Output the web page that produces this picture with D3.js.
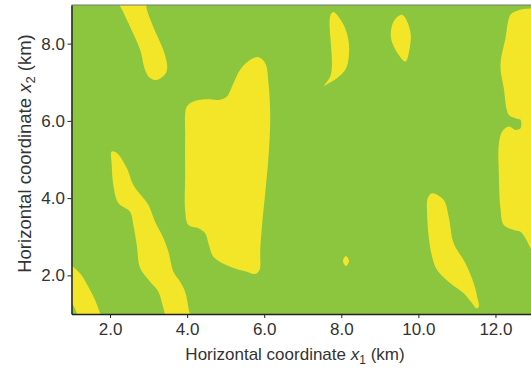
<!DOCTYPE html>
<html>
<head>
<meta charset="utf-8">
<script src="https://cdn.jsdelivr.net/npm/d3@7"></script>
<style>
  html, body { margin: 0; padding: 0; background: #fff; }
  svg { display: block; font-family: "Liberation Sans", Arial, sans-serif; }
</style>
</head>
<body>
<div id="chart"></div>
<script>
// 坐标范围 (km)
const xDomain = [1, 13];
const yDomain = [1, 9];
const xTicks = [2, 4, 6, 8, 10, 12];
const yTicks = [2, 4, 6, 8];

// 黄色区域轮廓 [x1, x2] (km)，超出边界的部分由裁剪去掉
const blobTopLeft = [[2.15,9.3],[2.35,8.8],[2.52,8.44],[2.78,7.84],[2.91,7.32],[3.04,7.11],[3.22,7.06],[3.45,7.24],[3.48,7.45],[3.38,7.84],[3.12,8.44],[2.95,8.9],[2.9,9.3]];
const blobLeftStreak = [[2.044,5.205],[2.044,4.86],[2.086,4.342],[2.216,3.876],[2.519,3.65],[2.605,3.306],[2.694,2.788],[2.779,2.192],[3.039,1.837],[3.255,1.578],[3.384,1.155],[3.514,0.8],[4.078,0.8],[4.034,1.155],[3.948,1.578],[3.818,1.837],[3.644,2.096],[3.514,2.614],[3.384,2.969],[3.169,3.391],[2.995,3.824],[2.605,4.342],[2.434,4.782],[2.174,5.171]];
const blobCenter = [[5.852,7.65],[6.026,7.495],[6.112,6.977],[6.156,6.111],[6.112,5.075],[6.026,4.127],[5.94,3.262],[5.896,2.658],[5.878,2.14],[5.766,2.036],[5.551,2.096],[5.117,2.225],[4.683,2.484],[4.553,2.832],[4.468,3.091],[4.294,3.22],[4.034,3.306],[3.948,3.694],[3.948,4.557],[3.948,5.593],[3.974,6.329],[4.078,6.459],[4.338,6.544],[4.597,6.562],[4.857,6.544],[5.031,6.63],[5.203,6.977],[5.377,7.321],[5.636,7.58]];
const blobCrescent = [[7.8,8.816],[8.06,8.487],[8.19,8.054],[8.19,7.624],[8.104,7.321],[7.888,7.106],[7.67,6.977],[7.558,6.907],[7.714,7.148],[7.758,7.451],[7.732,7.969],[7.696,8.573],[7.732,8.764]];
const blobOval = [[9.577,8.746],[9.792,8.313],[9.774,7.883],[9.662,7.536],[9.488,7.71],[9.291,8.143],[9.358,8.573]];
const blobDot = [[8.122,2.5],[8.2,2.373],[8.122,2.243],[8.044,2.373]];
const blobLowerRight = [[10.356,4.127],[10.657,3.953],[10.787,3.521],[10.917,2.832],[11.221,2.313],[11.436,1.795],[11.525,1.448],[11.566,1.189],[11.506,1.148],[11.395,1.277],[11.177,1.536],[10.831,1.795],[10.486,2.14],[10.356,2.484],[10.268,3.003],[10.226,3.609],[10.242,3.997]];
const blobRightEdge = [[12.564,8.85],[12.39,8.746],[12.26,8.142],[12.13,7.451],[12.216,6.847],[12.345,6.158],[12.519,6.07],[12.649,6.026],[12.649,5.811],[12.519,5.767],[12.345,5.852],[12.174,5.723],[12.086,5.378],[12.086,4.687],[12.13,3.738],[12.216,3.306],[12.475,3.176],[12.649,3.132],[12.779,2.961],[12.909,2.702],[13.04,2.45],[13.5,2.3],[13.5,8.85],[12.8,8.9]];
const blobCorner = [[0.831,2.347],[1.005,2.244],[1.221,2.054],[1.436,1.707],[1.61,1.363],[1.74,1.018],[1.792,0.8],[1.143,0.8],[1.135,1.018],[1.005,1.277],[0.831,1.415]];

const blobs = [blobTopLeft, blobLeftStreak, blobCenter, blobCrescent, blobOval, blobDot, blobLowerRight, blobRightEdge, blobCorner];

const xLabel = ['Horizontal coordinate ', 'x', '1', ' (km)'];
const yLabel = ['Horizontal coordinate ', 'x', '2', ' (km)'];

const width = 531, height = 371;
const margin = { top: 5, right: -3, bottom: 57, left: 71.5 };

const svg = d3.select('#chart').append('svg')
  .attr('width', width)
  .attr('height', height);

const x = d3.scaleLinear().domain(xDomain).range([margin.left, width - margin.right]);
const y = d3.scaleLinear().domain(yDomain).range([height - margin.bottom, margin.top]);

svg.append('clipPath').attr('id', 'plot-clip')
  .append('rect')
  .attr('x', x(xDomain[0])).attr('y', y(yDomain[1]))
  .attr('width', x(xDomain[1]) - x(xDomain[0]))
  .attr('height', y(yDomain[0]) - y(yDomain[1]));

// 绿色背景
svg.append('rect')
  .attr('x', x(xDomain[0])).attr('y', y(yDomain[1]))
  .attr('width', x(xDomain[1]) - x(xDomain[0]))
  .attr('height', y(yDomain[0]) - y(yDomain[1]))
  .attr('fill', '#8cc63f');

const line = d3.line()
  .x(d => x(d[0]))
  .y(d => y(d[1]))
  .curve(d3.curveCatmullRomClosed.alpha(0.5));

svg.append('g')
  .attr('clip-path', 'url(#plot-clip)')
  .selectAll('path')
  .data(blobs)
  .join('path')
  .attr('d', line)
  .attr('fill', '#f3e629');

// 顶部边框
svg.append('line')
  .attr('x1', x(xDomain[0])).attr('x2', width)
  .attr('y1', y(yDomain[1])).attr('y2', y(yDomain[1]))
  .attr('stroke', '#777')
  .attr('stroke-width', 1.2);

// 坐标轴
const xAxis = svg.append('g')
  .attr('transform', `translate(0,${y(yDomain[0])})`)
  .call(d3.axisBottom(x).tickValues(xTicks).tickFormat(d3.format('.1f')).tickSize(4).tickPadding(5).tickSizeOuter(0));

const yAxis = svg.append('g')
  .attr('transform', `translate(${x(xDomain[0])},0)`)
  .call(d3.axisLeft(y).tickValues(yTicks).tickFormat(d3.format('.1f')).tickSize(4).tickPadding(2.5).tickSizeOuter(0));

[xAxis, yAxis].forEach(a => {
  a.select('.domain').attr('stroke', '#222').attr('stroke-width', 1.5);
  a.selectAll('.tick line').attr('stroke', '#222');
  a.selectAll('.tick text')
    .attr('fill', '#333')
    .style('font-size', '17px')
    .style('font-family', '"Liberation Sans", Arial, sans-serif');
});

function axisTitle(sel, parts, sub) {
  sel.append('tspan').text(parts[0]);
  sel.append('tspan').attr('font-style', 'italic').text(parts[1]);
  sel.append('tspan').attr('font-size', sub + 'px').attr('dy', 4).text(parts[2]);
  sel.append('tspan').attr('dy', -4).text(parts[3]);
}

svg.append('text')
  .attr('x', 295)
  .attr('y', 360)
  .attr('text-anchor', 'middle')
  .attr('fill', '#333')
  .style('font-size', '17px')
  .call(axisTitle, xLabel, 12);

svg.append('text')
  .attr('transform', 'translate(30.5,153.5) rotate(-90)')
  .attr('text-anchor', 'middle')
  .attr('fill', '#333')
  .style('font-size', '18.5px')
  .call(axisTitle, yLabel, 13);
</script>
</body>
</html>
